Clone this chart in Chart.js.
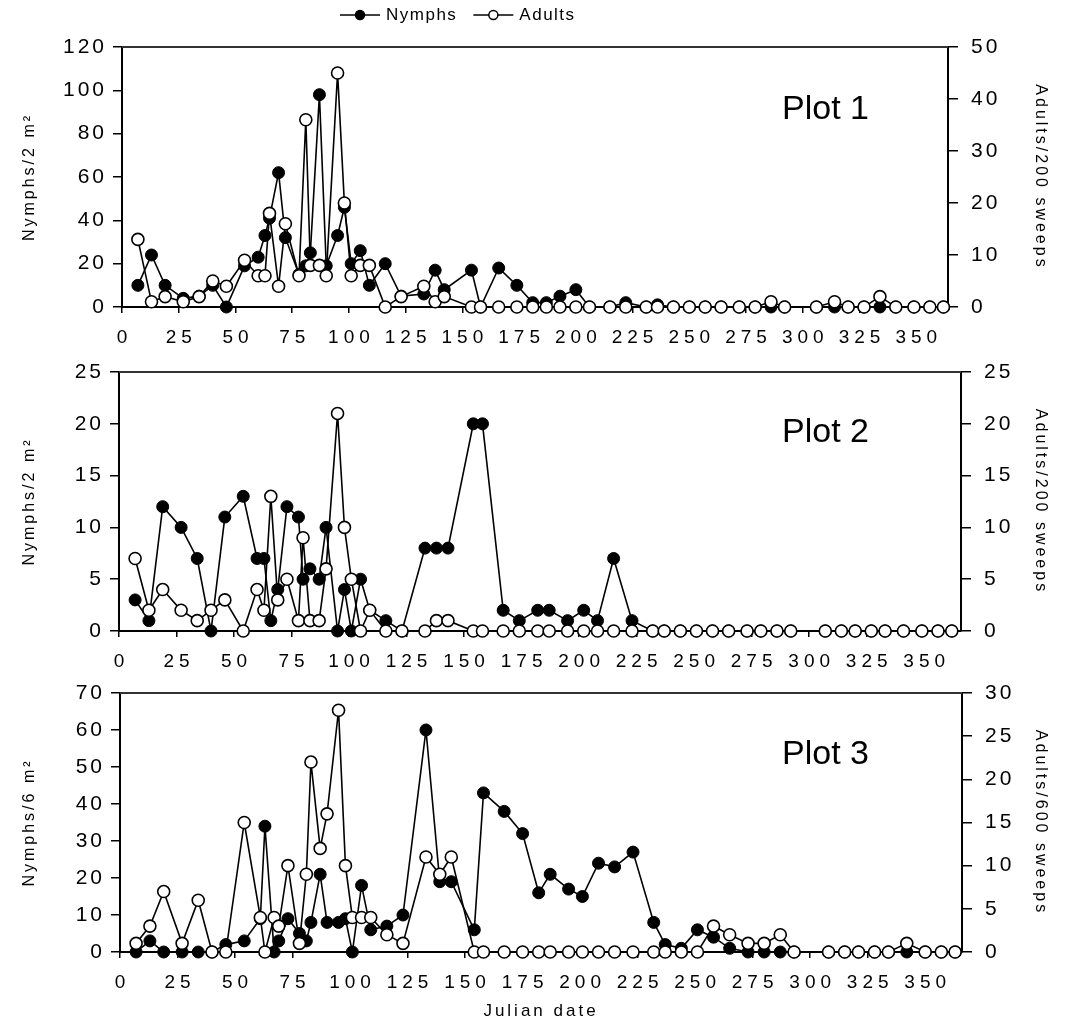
<!DOCTYPE html>
<html>
<head>
<meta charset="utf-8">
<script src="https://cdn.jsdelivr.net/npm/chart.js@4.4.0/dist/chart.umd.min.js"></script>
<style>
  body { margin: 0; background: #fff; }
  #wrap { position: relative; width: 1066px; height: 1030px; }
  canvas { position: absolute; left: 0; }
</style>
</head>
<body>
<div id="wrap">
  <canvas id="c1" width="1066" height="360" style="top:0px"></canvas>
  <canvas id="c2" width="1066" height="340" style="top:345px"></canvas>
  <canvas id="c3" width="1066" height="365" style="top:665px"></canvas>
</div>
<script>
// datas de amostragem (dia juliano) e contagens
const dias1 = [7, 13, 19, 27, 34, 40, 46, 54, 60, 63, 65, 69, 72, 78, 81, 83, 87, 90, 95, 98,
  101, 105, 109, 116, 123, 133, 138, 142, 154, 158, 166, 174, 181, 187, 193, 200, 206, 215, 222, 231,
  236, 243, 250, 257, 264, 272, 279, 286, 292, 306, 314, 320, 327, 334, 341, 349, 356, 362];
const ninfas1 = [10, 24, 10, 4, 5, 10, 0, 19, 23, 33, 41, 62, 32, 15, 19, 25, 98, 19, 33, 46,
  20, 26, 10, 20, 5, 6, 17, 8, 17, 0, 18, 10, 2, 2, 5, 8, 0, 0, 2, 0,
  1, 0, 0, 0, 0, 0, 0, 0, 0, 0, 0, 0, 0, 0, 0, 0, 0, 0];
const adultos1 = [13, 1, 2, 1, 2, 5, 4, 9, 6, 6, 18, 4, 16, 6, 36, 8, 8, 6, 45, 20,
  6, 8, 8, 0, 2, 4, 1, 2, 0, 0, 0, 0, 0, 0, 0, 0, 0, 0, 0, 0,
  0, 0, 0, 0, 0, 0, 0, 1, 0, 0, 1, 0, 0, 2, 0, 0, 0, 0];

const dias2 = [7, 13, 19, 27, 34, 40, 46, 54, 60, 63, 66, 69, 73, 78, 80, 83, 87, 90, 95, 98,
  101, 105, 109, 116, 123, 133, 138, 143, 154, 158, 167, 174, 182, 187, 195, 202, 208, 215, 223, 232,
  237, 244, 251, 258, 265, 273, 279, 286, 292, 307, 314, 320, 327, 333, 341, 349, 356, 362];
const ninfas2 = [3, 1, 12, 10, 7, 0, 11, 13, 7, 7, 1, 4, 12, 11, 5, 6, 5, 10, 0, 4,
  0, 5, 2, 1, 0, 8, 8, 8, 20, 20, 2, 1, 2, 2, 1, 2, 1, 7, 1, 0,
  0, 0, 0, 0, 0, 0, 0, 0, 0, 0, 0, 0, 0, 0, 0, 0, 0, 0];
const adultos2 = [7, 2, 4, 2, 1, 2, 3, 0, 4, 2, 13, 3, 5, 1, 9, 1, 1, 6, 21, 10,
  5, 0, 2, 0, 0, 0, 1, 1, 0, 0, 0, 0, 0, 0, 0, 0, 0, 0, 0, 0,
  0, 0, 0, 0, 0, 0, 0, 0, 0, 0, 0, 0, 0, 0, 0, 0, 0, 0];

const dias3 = [7, 13, 19, 27, 34, 40, 46, 54, 61, 63, 67, 69, 73, 78, 81, 83, 87, 90, 95, 98,
  101, 105, 109, 116, 123, 133, 139, 144, 154, 158, 167, 175, 182, 187, 195, 201, 208, 215, 223, 232,
  237, 244, 251, 258, 265, 273, 280, 287, 293, 308, 315, 321, 328, 334, 342, 350, 357, 363];
const ninfas3 = [0, 3, 0, 0, 0, 0, 2, 3, 9, 34, 0, 3, 9, 5, 3, 8, 21, 8, 8, 9,
  0, 18, 6, 7, 10, 60, 19, 19, 6, 43, 38, 32, 16, 21, 17, 15, 24, 23, 27, 8,
  2, 1, 6, 4, 1, 0, 0, 0, 0, 0, 0, 0, 0, 0, 0, 0, 0, 0];
const adultos3 = [1, 3, 7, 1, 6, 0, 0, 15, 4, 0, 4, 3, 10, 1, 9, 22, 12, 16, 28, 10,
  4, 4, 4, 2, 1, 11, 9, 11, 0, 0, 0, 0, 0, 0, 0, 0, 0, 0, 0, 0,
  0, 0, 0, 3, 2, 1, 1, 2, 0, 0, 0, 0, 0, 0, 1, 0, 0, 0];

const ticksX = [0, 25, 50, 75, 100, 125, 150, 175, 200, 225, 250, 275, 300, 325, 350];
const serieNomes = ["Nymphs", "Adults"];
const tituloX = "Julian date";

Chart.defaults.font.family = "'Liberation Sans', Arial, sans-serif";
Chart.defaults.color = "#000";

// espaçamento entre letras (px) dos rótulos de cada eixo, como no original
const espacos = { x: 5, y: 3, y2: 3 };
const espacamento = {
  id: "espacamento",
  afterUpdate(chart) {
    const ctx = chart.ctx;
    Object.values(chart.scales).forEach((s) => {
      if (s._espacado) return;
      s._espacado = true;
      const rotulos = s.drawLabels;
      const titulo = s.drawTitle;
      s.drawLabels = function (area) {
        ctx.save();
        ctx.letterSpacing = espacos[s.id] + "px";
        rotulos.call(s, area);
        ctx.restore();
      };
      s.drawTitle = function () {
        ctx.save();
        ctx.letterSpacing = "3px";
        titulo.call(s);
        ctx.restore();
      };
    });
  }
};

// linha de cima da moldura e o rótulo "Plot n"
const moldura = {
  id: "moldura",
  beforeDatasetsDraw(chart) {
    const { ctx, chartArea: a } = chart;
    ctx.save();
    ctx.strokeStyle = "#333";
    ctx.lineWidth = 2;
    ctx.beginPath();
    ctx.moveTo(a.left, a.top);
    ctx.lineTo(a.right, a.top);
    ctx.stroke();
    ctx.restore();
  },
  afterDraw(chart, args, opts) {
    const ctx = chart.ctx;
    ctx.save();
    ctx.font = "34px 'Liberation Sans', Arial, sans-serif";
    ctx.fillStyle = "#000";
    ctx.textAlign = "left";
    ctx.textBaseline = "middle";
    ctx.fillText(opts.texto, 782, opts.y);
    ctx.restore();
  }
};

// legenda desenhada à mão só no primeiro painel
const legenda = {
  id: "legenda",
  afterDraw(chart, args, opts) {
    if (!opts.mostrar) return;
    const ctx = chart.ctx;
    const y = 15;
    ctx.save();
    ctx.letterSpacing = "1.5px";
    ctx.font = "17px 'Liberation Sans', Arial, sans-serif";
    ctx.textBaseline = "middle";
    ctx.strokeStyle = "#000";
    ctx.lineWidth = 1.5;
    let x = opts.x;
    serieNomes.forEach((nome, i) => {
      ctx.beginPath();
      ctx.moveTo(x, y);
      ctx.lineTo(x + 40, y);
      ctx.stroke();
      ctx.beginPath();
      ctx.arc(x + 20, y, 4.5, 0, Math.PI * 2);
      ctx.fillStyle = i === 0 ? "#000" : "#fff";
      ctx.fill();
      ctx.stroke();
      ctx.fillStyle = "#000";
      ctx.fillText(nome, x + 46, y);
      x += 46 + ctx.measureText(nome).width + 16;
    });
    ctx.restore();
  }
};

function painel(id, p) {
  const H = document.getElementById(id).height;
  const pontos = (xs, ys) => xs.map((d, i) => ({ x: d, y: ys[i] }));
  const eixoY = (pos, max, passo, titulo, largura, tick, tituloPad) => ({
    position: pos,
    min: 0,
    max: max,
    afterFit: (s) => { s.width = largura; },
    ticks: { stepSize: passo, color: "#000", font: { size: 21 }, padding: pos === "left" ? 6 : 13 },
    grid: { drawOnChartArea: false, tickLength: tick, color: "#000", lineWidth: 1.5 },
    border: { color: "#000", width: 2 },
    title: { display: true, text: titulo, color: "#000", font: { size: 16 }, padding: { top: tituloPad, bottom: 0 } }
  });

  return new Chart(document.getElementById(id), {
    type: "line",
    data: {
      datasets: [
        {
          label: serieNomes[0],
          data: pontos(p.dias, p.ninfas),
          yAxisID: "y",
          order: 1,
          borderColor: "#000",
          borderWidth: 1.6,
          pointRadius: 6,
          pointBackgroundColor: "#000",
          pointBorderColor: "#000",
          pointBorderWidth: 1,
          tension: 0,
          clip: false
        },
        {
          label: serieNomes[1],
          data: pontos(p.dias, p.adultos),
          yAxisID: "y2",
          order: 0,
          borderColor: "#000",
          borderWidth: 1.6,
          pointRadius: 6,
          pointBackgroundColor: "#fff",
          pointBorderColor: "#000",
          pointBorderWidth: 1.6,
          tension: 0,
          clip: false
        }
      ]
    },
    options: {
      responsive: false,
      animation: false,
      events: [],
      layout: { padding: { top: p.topo, left: 0, right: 0, bottom: 0 } },
      plugins: {
        legend: { display: false },
        tooltip: { enabled: false },
        moldura: { texto: p.texto, y: p.textoY },
        legenda: { mostrar: !!p.legenda, x: 340 }
      },
      scales: {
        x: {
          type: "linear",
          position: "bottom",
          min: 0,
          max: p.xMax,
          afterBuildTicks: (s) => { s.ticks = ticksX.map((v) => ({ value: v })); },
          afterFit: (s) => { s.height = H - p.base; },
          ticks: { autoSkip: false, maxRotation: 0, color: "#000", font: { size: 19 }, padding: 13, labelOffset: 2.5 },
          grid: { drawOnChartArea: false, tickLength: 6, color: "#000", lineWidth: 1.5 },
          border: { color: "#000", width: 2 },
          title: { display: !!p.tituloX, text: tituloX, color: "#000", font: { size: 17 }, padding: { top: 0, bottom: 8 } }
        },
        y: eixoY("left", p.yMax, p.yPasso, p.yTitulo, p.esq, 9, 20),
        y2: eixoY("right", p.y2Max, p.y2Passo, p.y2Titulo, 1066 - p.dir, 10, 16)
      }
    },
    plugins: [espacamento, moldura, legenda]
  });
}

painel("c1", {
  dias: dias1, ninfas: ninfas1, adultos: adultos1,
  xMax: 364, yMax: 120, yPasso: 20, y2Max: 50, y2Passo: 10,
  yTitulo: "Nymphs/2 m\u00B2", y2Titulo: "Adults/200 sweeps",
  esq: 122, dir: 948, topo: 47, base: 307,
  texto: "Plot 1", textoY: 110, legenda: true
});
painel("c2", {
  dias: dias2, ninfas: ninfas2, adultos: adultos2,
  xMax: 366, yMax: 25, yPasso: 5, y2Max: 25, y2Passo: 5,
  yTitulo: "Nymphs/2 m\u00B2", y2Titulo: "Adults/200 sweeps",
  esq: 119, dir: 961, topo: 27, base: 286,
  texto: "Plot 2", textoY: 88
});
painel("c3", {
  dias: dias3, ninfas: ninfas3, adultos: adultos3,
  xMax: 366, yMax: 70, yPasso: 10, y2Max: 30, y2Passo: 5,
  yTitulo: "Nymphs/6 m\u00B2", y2Titulo: "Adults/600 sweeps",
  esq: 120, dir: 962, topo: 28, base: 287,
  texto: "Plot 3", textoY: 90, tituloX: true
});
</script>
</body>
</html>
